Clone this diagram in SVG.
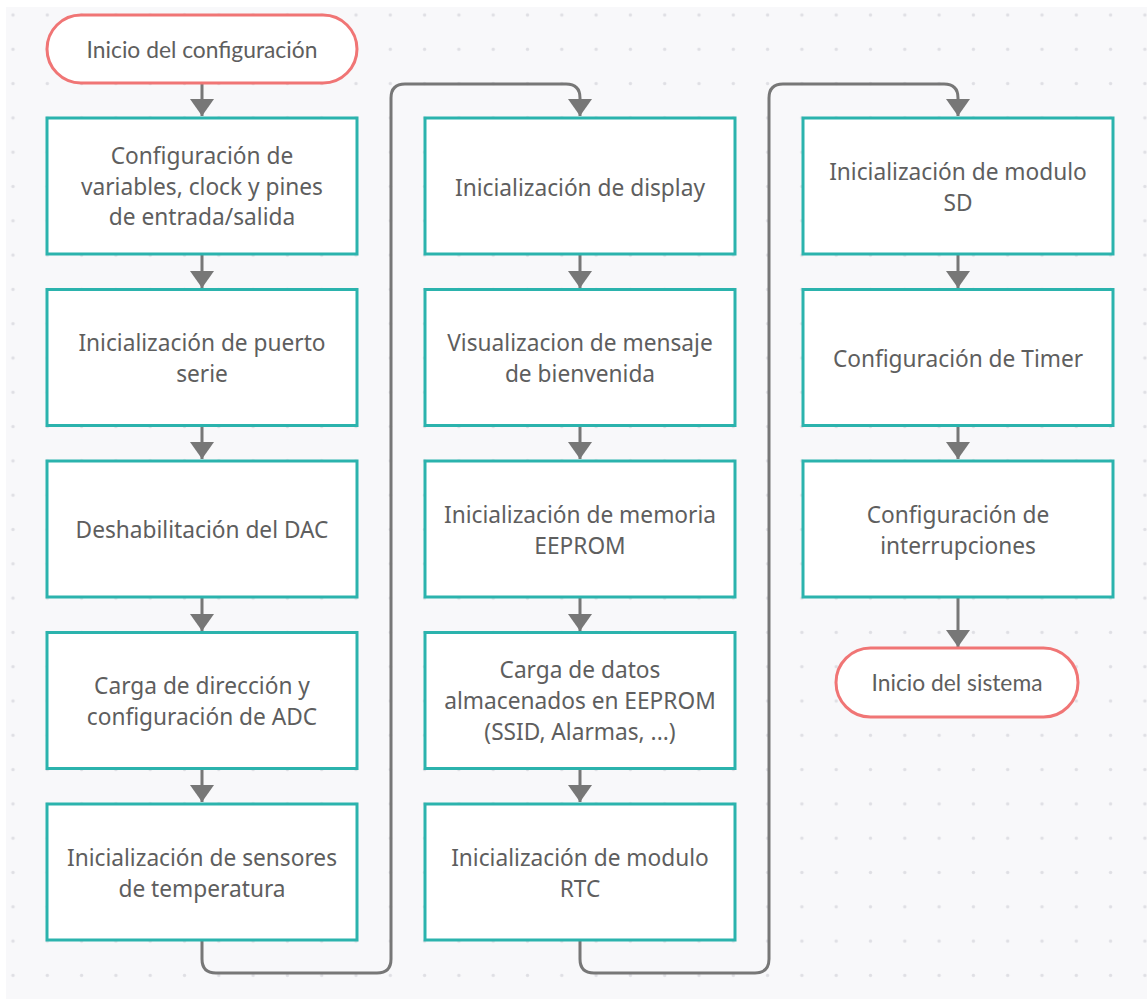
<svg xmlns="http://www.w3.org/2000/svg" width="1147" height="999" viewBox="0 0 1147 999">
<style>
.box{fill:#fff;stroke:#2bb3ad;stroke-width:3}
.pill{fill:#fff;stroke:#f07575;stroke-width:3}
.t{font-family:"Noto Sans","Open Sans",sans-serif;font-size:22.7px;fill:#5e5e5e;text-anchor:middle}
.p{font-family:Lato,"Noto Sans",sans-serif;font-size:22.8px;fill:#5e5e5e;text-anchor:middle}
.c{fill:none;stroke:#777;stroke-width:3}
</style>
<defs>
<pattern id="dots" patternUnits="userSpaceOnUse" x="-4.15" y="-2.15" width="34.3" height="34.3">
<circle cx="17.15" cy="17.15" r="1.7" fill="#dfdfe4"/>
</pattern>
<marker id="ah" markerUnits="userSpaceOnUse" markerWidth="18" markerHeight="24" viewBox="0 0 18 24" refX="17" refY="12" orient="auto">
<path d="M0,0 L17,12 L0,24 z" fill="#777"/>
</marker>
</defs>
<rect x="6" y="7" width="1141" height="992" fill="#f8f8fa"/>
<rect x="6" y="7" width="1141" height="992" fill="url(#dots)"/>
<g id="connectors">
<path class="c" d="M202,84 V116" marker-end="url(#ah)"/>
<path class="c" d="M202,255 V288" marker-end="url(#ah)"/>
<path class="c" d="M202,426 V459" marker-end="url(#ah)"/>
<path class="c" d="M202,598 V631" marker-end="url(#ah)"/>
<path class="c" d="M202,769 V802" marker-end="url(#ah)"/>
<path class="c" d="M202,941 V959 Q202,973 216,973 H377 Q391,973 391,959 V98 Q391,84 405,84 H566 Q580,84 580,98 V116" marker-end="url(#ah)"/>
<path class="c" d="M580,255 V288" marker-end="url(#ah)"/>
<path class="c" d="M580,426 V459" marker-end="url(#ah)"/>
<path class="c" d="M580,598 V631" marker-end="url(#ah)"/>
<path class="c" d="M580,769 V802" marker-end="url(#ah)"/>
<path class="c" d="M580,941 V959 Q580,973 594,973 H755 Q769,973 769,959 V98 Q769,84 783,84 H944 Q958,84 958,98 V116" marker-end="url(#ah)"/>
<path class="c" d="M958,255 V288" marker-end="url(#ah)"/>
<path class="c" d="M958,426 V459" marker-end="url(#ah)"/>
<path class="c" d="M958,598 V647" marker-end="url(#ah)"/>
</g>
<g id="start">
<rect class="pill" x="47" y="15" width="310" height="68" rx="34"/>
<text class="p" x="202" y="58">Inicio del configuración</text>
</g>
<g id="n1">
<rect class="box" x="47" y="118" width="310" height="136"/>
<text class="t" x="202" y="164">Configuración de</text>
<text class="t" x="202" y="195">variables, clock y pines</text>
<text class="t" x="202" y="225">de entrada/salida</text>
</g>
<g id="n2">
<rect class="box" x="47" y="289.5" width="310" height="136"/>
<text class="t" x="202" y="351">Inicialización de puerto</text>
<text class="t" x="202" y="382">serie</text>
</g>
<g id="n3">
<rect class="box" x="47" y="461" width="310" height="136"/>
<text class="t" x="202" y="538">Deshabilitación del DAC</text>
</g>
<g id="n4">
<rect class="box" x="47" y="632.5" width="310" height="136"/>
<text class="t" x="202" y="694">Carga de dirección y</text>
<text class="t" x="202" y="725">configuración de ADC</text>
</g>
<g id="n5">
<rect class="box" x="47" y="804" width="310" height="136"/>
<text class="t" x="202" y="866">Inicialización de sensores</text>
<text class="t" x="202" y="897">de temperatura</text>
</g>
<g id="n6">
<rect class="box" x="425" y="118" width="310" height="136"/>
<text class="t" x="580" y="196">Inicialización de display</text>
</g>
<g id="n7">
<rect class="box" x="425" y="289.5" width="310" height="136"/>
<text class="t" x="580" y="351">Visualizacion de mensaje</text>
<text class="t" x="580" y="382">de bienvenida</text>
</g>
<g id="n8">
<rect class="box" x="425" y="461" width="310" height="136"/>
<text class="t" x="580" y="523">Inicialización de memoria</text>
<text class="t" x="580" y="554">EEPROM</text>
</g>
<g id="n9">
<rect class="box" x="425" y="632.5" width="310" height="136"/>
<text class="t" x="580" y="678">Carga de datos</text>
<text class="t" x="580" y="709">almacenados en EEPROM</text>
<text class="t" x="580" y="740">(SSID, Alarmas, ...)</text>
</g>
<g id="n10">
<rect class="box" x="425" y="804" width="310" height="136"/>
<text class="t" x="580" y="866">Inicialización de modulo</text>
<text class="t" x="580" y="897">RTC</text>
</g>
<g id="n11">
<rect class="box" x="803" y="118" width="310" height="136"/>
<text class="t" x="958" y="180">Inicialización de modulo</text>
<text class="t" x="958" y="211">SD</text>
</g>
<g id="n12">
<rect class="box" x="803" y="289.5" width="310" height="136"/>
<text class="t" x="958" y="367">Configuración de Timer</text>
</g>
<g id="n13">
<rect class="box" x="803" y="461" width="310" height="136"/>
<text class="t" x="958" y="523">Configuración de</text>
<text class="t" x="958" y="554">interrupciones</text>
</g>
<g id="end">
<rect class="pill" x="836" y="648" width="242" height="69" rx="34.5"/>
<text class="p" x="957" y="691">Inicio del sistema</text>
</g>
</svg>
